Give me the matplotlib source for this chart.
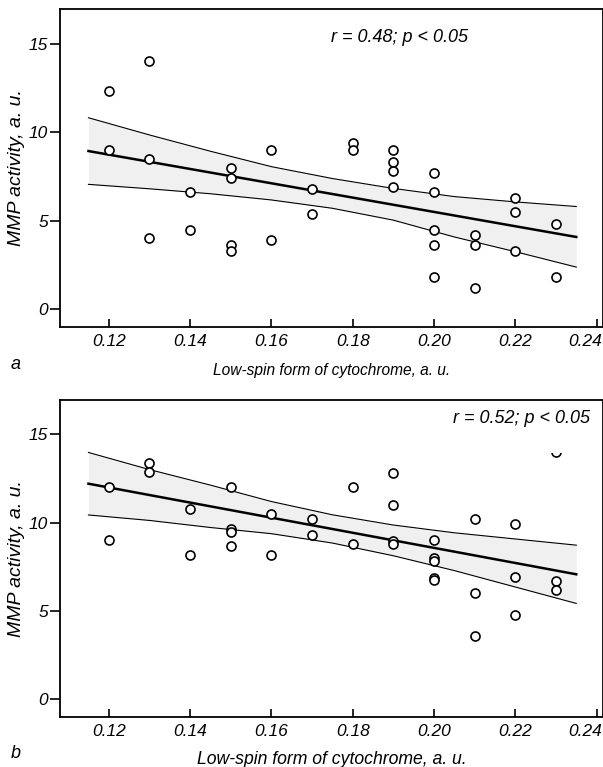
import numpy as np
import matplotlib.pyplot as plt
from matplotlib.transforms import ScaledTranslation

# panel a: low-spin cytochrome vs MMP activity
xa = [0.12, 0.12,
      0.13, 0.13, 0.13,
      0.14, 0.14,
      0.15, 0.15, 0.15, 0.15,
      0.16, 0.16,
      0.17, 0.17,
      0.18, 0.18,
      0.19, 0.19, 0.19, 0.19,
      0.20, 0.20, 0.20, 0.20, 0.20,
      0.21, 0.21, 0.21,
      0.22, 0.22, 0.22,
      0.23, 0.23]
ya = [12.3, 9.0,
      14.0, 8.5, 4.0,
      6.6, 4.5,
      8.0, 7.4, 3.65, 3.3,
      9.0, 3.9,
      6.8, 5.4,
      9.4, 9.0,
      9.0, 8.3, 7.8, 6.9,
      7.7, 6.6, 4.5, 3.6, 1.8,
      4.2, 3.6, 1.2,
      6.3, 5.5, 3.3,
      4.8, 1.8]

# panel b
xb = [0.12, 0.12,
      0.13, 0.13,
      0.14, 0.14,
      0.15, 0.15, 0.15, 0.15,
      0.16, 0.16,
      0.17, 0.17,
      0.18, 0.18,
      0.19, 0.19, 0.19, 0.19,
      0.20, 0.20, 0.20, 0.20, 0.20,
      0.21, 0.21, 0.21,
      0.22, 0.22, 0.22,
      0.23, 0.23, 0.23]
yb = [12.0, 9.0,
      13.4, 12.9,
      10.8, 8.2,
      12.0, 9.65, 9.5, 8.7,
      10.5, 8.2,
      10.2, 9.3,
      12.0, 8.8,
      12.8, 11.0, 8.95, 8.8,
      9.0, 8.0, 7.85, 6.85, 6.75,
      10.2, 6.0, 3.6,
      9.9, 6.9, 4.8,
      14.0, 6.7, 6.2]

# regression lines and confidence bands
fit_x = [0.115, 0.235]
fit_a = [8.93, 4.08]
fit_b = [12.21, 7.08]
band_x = [0.115, 0.13, 0.145, 0.16, 0.175, 0.19, 0.205, 0.22, 0.235]
a_up = [10.81, 9.84, 8.92, 8.05, 7.38, 6.82, 6.36, 6.06, 5.80]
a_lo = [7.05, 6.80, 6.52, 6.17, 5.70, 5.03, 4.08, 3.25, 2.38]
b_up = [13.98, 13.01, 12.13, 11.20, 10.45, 9.87, 9.43, 9.08, 8.73]
b_lo = [10.44, 10.13, 9.73, 9.38, 8.85, 8.13, 7.29, 6.36, 5.43]

labels_r = ["r = 0.48; p < 0.05", "r = 0.52; p < 0.05"]
panel_tags = ["a", "b"]
xticks = [0.12, 0.14, 0.16, 0.18, 0.20, 0.22, 0.24]
yticks = [0, 5, 10, 15]

plt.rcParams['font.family'] = ['Liberation Sans', 'DejaVu Sans']
plt.rcParams['font.style'] = 'italic'

fig = plt.figure(figsize=(6.03, 7.67), dpi=100)
ax1 = fig.add_axes([0.0995, 0.5737, 0.9, 0.4146])
ax2 = fig.add_axes([0.0995, 0.0652, 0.9, 0.4133])


def panel(ax, x, y, fy, up, lo, txt, txt_pos, tag, tag_y, xl_size, xl_pad):
    ax.fill_between(band_x, lo, up, color='#f0f0f0', lw=0, zorder=1)
    ax.plot(band_x, up, color='black', lw=0.8, zorder=2)
    ax.plot(band_x, lo, color='black', lw=0.8, zorder=2)
    ax.plot(fit_x, fy, color='black', lw=1.8, zorder=2)
    ax.plot(x, y, 'o', mfc='white', mec='black', mew=1.2, ms=6.5, zorder=3)

    ax.set_xlim(0.108, 0.2415)
    ax.set_ylim(-1.0, 16.95)
    ax.set_xticks(xticks)
    ax.set_xticklabels(['%.2f' % v for v in xticks])
    ax.set_yticks(yticks)
    ax.tick_params(axis='x', direction='in', length=6, width=1.2, pad=5, labelsize=12.5)
    ax.tick_params(axis='y', direction='out', length=7, width=1.2, pad=1.5, labelsize=12.5)
    # last label squeezed in at the right edge
    last = ax.get_xticklabels()[-1]
    last.set_ha('right')
    last.set_transform(last.get_transform() + ScaledTranslation(5 / 100, 0, fig.dpi_scale_trans))
    for sp in ax.spines.values():
        sp.set_linewidth(1.3)
        sp.set_zorder(6)
    ax.set_ylabel('MMP activity, a. u.', fontsize=14, labelpad=3)
    ax.set_xlabel('Low-spin form of cytochrome, a. u.', fontsize=xl_size, labelpad=xl_pad)
    ax.text(txt_pos[0], txt_pos[1], txt, transform=ax.transAxes, ha='center', va='center',
            fontsize=13, zorder=5,
            bbox=dict(facecolor='white', edgecolor='none', boxstyle='square,pad=1.45'))
    fig.text(0.018, tag_y, tag, fontsize=13, ha='left', va='center')


panel(ax1, xa, ya, fit_a, a_up, a_lo, labels_r[0], (0.626, 0.909), panel_tags[0],
      1 - 365 / 767, 11.2, 10)
panel(ax2, xb, yb, fit_b, b_up, b_lo, labels_r[1], (0.851, 0.943), panel_tags[1],
      1 - 754 / 767, 12.7, 9)

fig.savefig('out.png', dpi=100)
